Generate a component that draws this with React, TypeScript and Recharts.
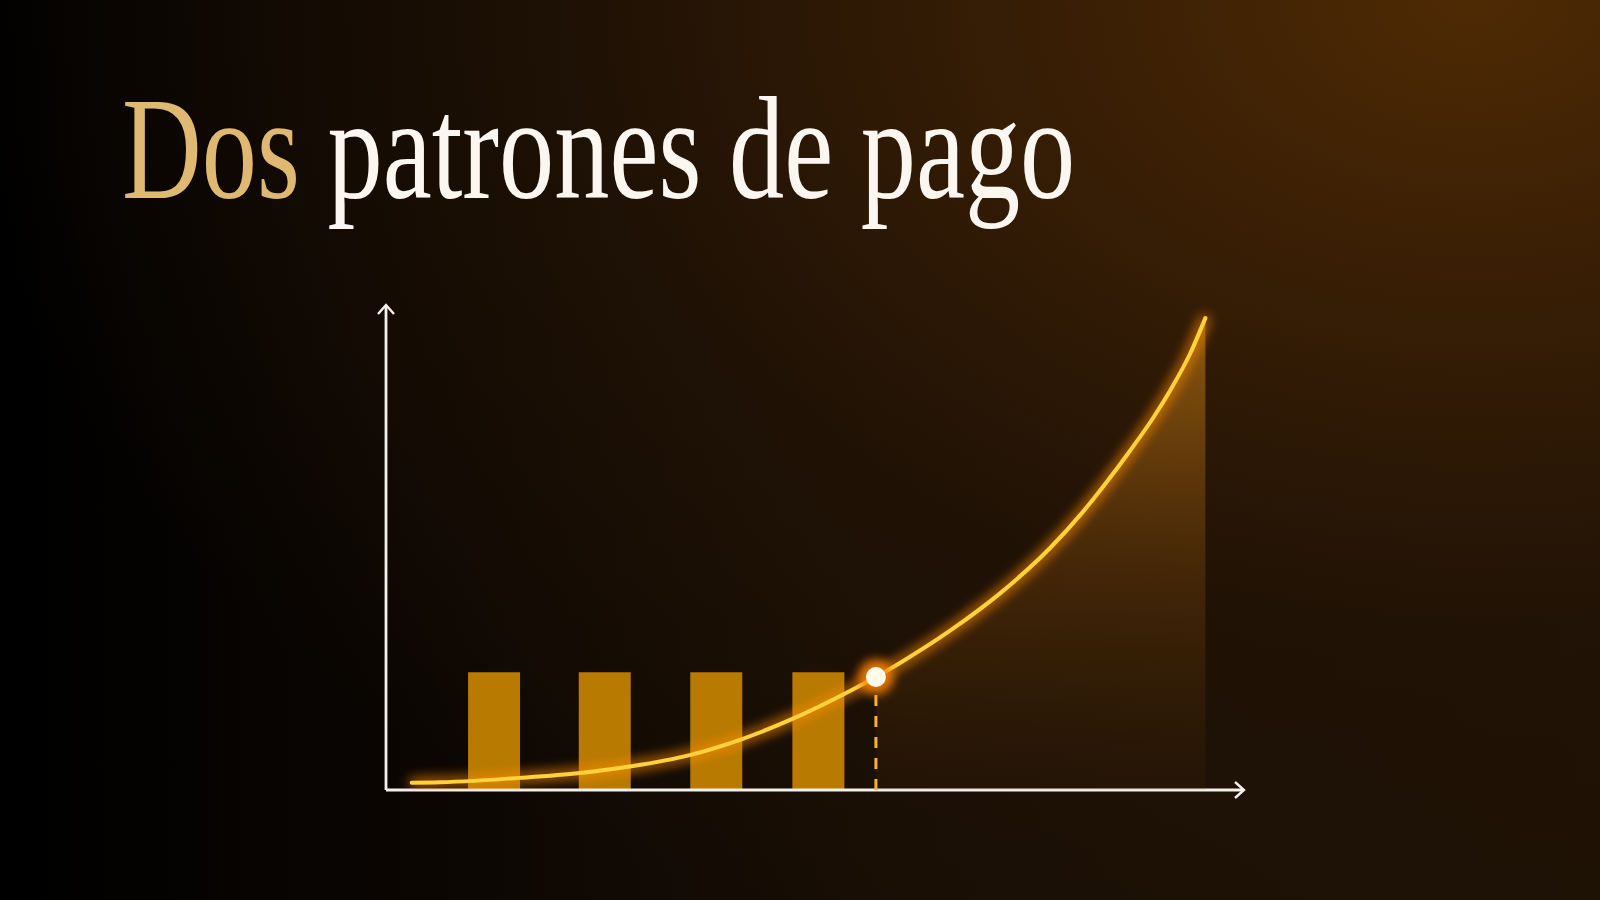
import React from "react";
import {
  ComposedChart,
  Bar,
  Line,
  Area,
  XAxis,
  YAxis,
  ReferenceDot,
  ReferenceLine,
} from "recharts";

// curva de crecimiento (eje x: tiempo 0-100, eje y: importe 0-100)
const curveX = [3.0, 6.3, 15.6, 22.6, 28.6, 35.4, 41.5, 47.3, 53.4, 57.1, 59.9, 65.7, 71.6, 77.4, 81.2, 84.0, 86.7, 89.4, 91.7, 93.7, 95.5];
const curveY = [1.5, 1.6, 2.5, 3.5, 4.9, 7.2, 10.5, 14.6, 19.8, 23.3, 26.2, 32.8, 40.6, 49.9, 57.3, 63.5, 69.9, 76.7, 83.3, 89.9, 97.3];

// pagos fijos
const paymentX = [12.6, 25.5, 38.5, 50.4];
const paymentY = [24.3, 24.3, 24.3, 24.3];

// punto de cruce
const switchX = 57.1;
const switchY = 23.3;

const titleGold = "Dos";
const titleRest = " patrones de pago";

const W = 1600;
const H = 900;
const margin = { top: 305, right: 356, left: 326, bottom: 80 };

const curveData = curveX.map((x, i) => ({
  x,
  value: curveY[i],
  tail: x >= switchX ? curveY[i] : null,
}));

const paymentData = paymentX.map((x, i) => ({ x, pago: paymentY[i] }));

const background =
  "radial-gradient(ellipse 95% 115% at 92% 0%, rgba(78,42,4,1) 0%, rgba(56,30,5,0.95) 30%, rgba(34,19,5,0.75) 60%, rgba(0,0,0,0) 100%)," +
  "linear-gradient(90deg, #000000 0%, #090502 22%, #180e05 55%, #1e1206 100%)";

const DotShape = (props: any) => (
  <g>
    <circle cx={props.cx} cy={props.cy} r={18} fill="#ff8400" opacity={0.8} filter="url(#dotGlow)" />
    <circle cx={props.cx} cy={props.cy} r={10} fill="#fffbea" />
  </g>
);

export default function App() {
  return (
    <div
      style={{
        position: "absolute",
        left: 0,
        top: 0,
        width: W,
        height: H,
        overflow: "hidden",
        background,
      }}
    >
      <div
        style={{
          position: "absolute",
          left: 122,
          top: 76,
          fontFamily: "'Liberation Serif', 'DejaVu Serif', serif",
          fontSize: 146,
          lineHeight: 1,
          whiteSpace: "nowrap",
          transform: "scaleX(0.756)",
          transformOrigin: "0 0",
          color: "#fbf7f0",
        }}
      >
        <span style={{ color: "#dfb872" }}>{titleGold}</span>
        {titleRest}
      </div>

      <div style={{ position: "absolute", left: 0, top: 0 }}>
        <ComposedChart width={W} height={H} data={paymentData} margin={margin}>
          <defs>
            <marker
              id="arrowHead"
              viewBox="-12 -10 14 20"
              markerWidth={14}
              markerHeight={20}
              markerUnits="userSpaceOnUse"
              orient="auto-start-reverse"
            >
              <path d="M -9 -8 L 0 0 L -9 8" fill="none" stroke="#f4f0ea" strokeWidth={2.4} />
            </marker>
          </defs>
          <XAxis
            type="number"
            dataKey="x"
            domain={[0, 100]}
            allowDataOverflow
            tick={false}
            tickLine={false}
            axisLine={{ stroke: "#f4f0ea", strokeWidth: 2.8, markerEnd: "url(#arrowHead)" }}
          />
          <YAxis
            type="number"
            domain={[0, 100]}
            allowDataOverflow
            tick={false}
            tickLine={false}
            axisLine={{ stroke: "#f4f0ea", strokeWidth: 2.8, markerStart: "url(#arrowHead)" }}
          />
          <Bar dataKey="pago" fill="#b87a00" barSize={52} isAnimationActive={false} />
        </ComposedChart>
      </div>

      <div style={{ position: "absolute", left: 0, top: 0 }}>
        <ComposedChart width={W} height={H} data={curveData} margin={margin}>
          <defs>
            <linearGradient id="tailFill" x1="0" y1="0" x2="0" y2="1">
              <stop offset="0%" stopColor="#f09a18" stopOpacity={0.8} />
              <stop offset="45%" stopColor="#c07010" stopOpacity={0.45} />
              <stop offset="100%" stopColor="#7a4206" stopOpacity={0.12} />
            </linearGradient>
            <filter id="lineGlow" filterUnits="userSpaceOnUse" x={0} y={0} width={W} height={H}>
              <feGaussianBlur in="SourceAlpha" stdDeviation={6.5} result="blur" />
              <feFlood floodColor="#ff8c00" floodOpacity={1} />
              <feComposite in2="blur" operator="in" result="glow" />
              <feMerge>
                <feMergeNode in="glow" />
                <feMergeNode in="glow" />
                <feMergeNode in="SourceGraphic" />
              </feMerge>
            </filter>
            <filter id="dotGlow" x="-100%" y="-100%" width="300%" height="300%">
              <feGaussianBlur stdDeviation={5} />
            </filter>
          </defs>
          <XAxis type="number" dataKey="x" domain={[0, 100]} allowDataOverflow tick={false} tickLine={false} axisLine={false} />
          <YAxis type="number" domain={[0, 100]} allowDataOverflow tick={false} tickLine={false} axisLine={false} />
          <Area
            type="monotone"
            dataKey="tail"
            stroke="none"
            fill="url(#tailFill)"
            baseValue={0}
            isAnimationActive={false}
          />
          <ReferenceLine
            segment={[
              { x: switchX, y: 0 },
              { x: switchX, y: switchY },
            ]}
            stroke="#f8b52a"
            strokeWidth={3}
            strokeDasharray="11 10"
          />
          <Line
            type="monotone"
            dataKey="value"
            stroke="#ffd23a"
            strokeWidth={4}
            strokeLinecap="round"
            dot={false}
            activeDot={false}
            filter="url(#lineGlow)"
            isAnimationActive={false}
          />
          <ReferenceDot x={switchX} y={switchY} r={10} shape={DotShape} />
        </ComposedChart>
      </div>
    </div>
  );
}
